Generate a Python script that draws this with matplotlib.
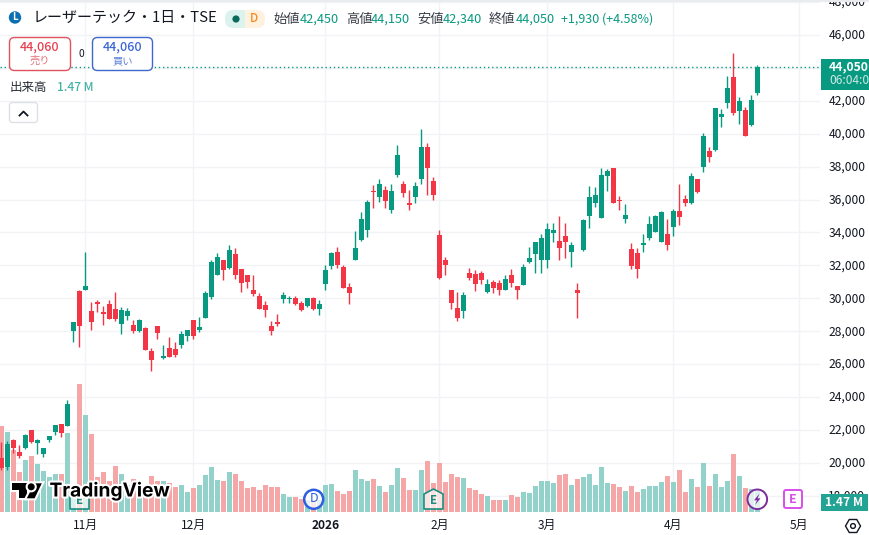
#!/usr/bin/env python3
"""Daily candlestick chart with volume, drawn in a TradingView-like layout."""
import numpy as np
import matplotlib
matplotlib.use('Agg')
import matplotlib.pyplot as plt
import matplotlib.patheffects as pe
from matplotlib.patches import Circle, FancyBboxPatch, Polygon, Rectangle
from matplotlib.transforms import ScaledTranslation

plt.rcParams['font.family'] = ['Noto Sans CJK JP', 'DejaVu Sans']

# ---- prices (yen per bar) ----
opens = [
    20300, 19760, 21390, 20670, 20910, 22000, 21210, 20550, 21390, 21880, 22360, 22240,
    28000, 30420, 30540, 29210, 29760, 29150, 29640, 29330, 28420, 28910, 28360, 28000,
    28180, 26790, 28300, 26390, 26970, 26910, 27150, 27700, 28670, 28060, 28790, 30060,
    31390, 32360, 31820, 32670, 31760, 31390, 30480, 30120, 29570, 28300, 28540, 29940,
    29940, 30000, 29700, 29510, 30000, 29330, 30850, 31940, 32790, 31880, 30670, 32360,
    33570, 34180, 36540, 36180, 36600, 35390, 37510, 36970, 35760, 36180, 37270, 39210,
    37150, 33820, 32300, 30540, 29390, 29210, 31570, 31510, 31570, 30360, 30970, 30910,
    30480, 31450, 30730, 30790, 32180, 32670, 32300, 32300, 33940, 33510, 33760, 32790,
    30480, 32910, 35030, 35760, 34850, 37450, 37940, 36000, 34790, 32970, 32730, 33210,
    33640, 34000, 33450, 33880, 34360, 35330, 36060, 35760, 37270, 38000, 38970, 39030,
    41030, 41880, 43450, 41390, 41450, 40540, 42450,
]
highs = [
    21270, 21330, 21450, 21090, 21760, 22000, 21450, 20910, 21640, 22300, 22360, 23820,
    28540, 30480, 32790, 29760, 29880, 29510, 29880, 30360, 29450, 29390, 28670, 28730,
    28240, 26970, 28300, 27150, 27640, 27330, 28000, 28060, 28670, 28850, 30420, 32360,
    32730, 32360, 33270, 33030, 31760, 31390, 31390, 30300, 29820, 28610, 29030, 30360,
    30120, 30120, 29820, 30000, 30060, 29880, 32000, 32790, 33090, 32000, 30910, 34060,
    35270, 36000, 36910, 37270, 36850, 36970, 39330, 37150, 36600, 37090, 40300, 39450,
    37390, 34180, 32540, 30540, 30360, 30360, 31820, 31700, 31640, 31150, 31090, 31090,
    31390, 31760, 30730, 32060, 33090, 33450, 33880, 34600, 34600, 35030, 34600, 33450,
    30910, 34790, 36850, 36790, 37940, 37880, 37940, 36240, 35700, 33390, 33030, 33880,
    35030, 35090, 35330, 34790, 35450, 36970, 36300, 37630, 37270, 40060, 39210, 41570,
    41510, 43510, 44910, 42240, 41630, 42360, 44150,
]
lows = [
    19580, 19580, 20610, 20300, 20850, 21210, 20550, 20360, 21270, 21700, 21580, 22240,
    27330, 27030, 30540, 28060, 29150, 28360, 28730, 28610, 27820, 28670, 27880, 27940,
    26850, 25580, 27510, 26300, 26420, 26420, 26970, 27390, 27510, 27940, 28790, 29940,
    31390, 31090, 31760, 31150, 30360, 30610, 30120, 29330, 28850, 27760, 28300, 29700,
    29700, 29570, 29210, 29450, 29270, 28970, 30480, 31760, 31820, 30610, 29640, 32300,
    33510, 33700, 35510, 35820, 35510, 35210, 37390, 36180, 35390, 35760, 36970, 36300,
    36000, 31150, 31390, 29330, 28610, 28790, 31090, 30420, 30850, 30300, 30300, 30180,
    30480, 30670, 29940, 30790, 32120, 31570, 31570, 31820, 33450, 32300, 32480, 31880,
    28790, 32850, 34300, 35570, 34850, 36540, 35760, 35390, 34600, 31760, 31210, 32790,
    33570, 34000, 33450, 32910, 33760, 34480, 35630, 35700, 36420, 37700, 38300, 38970,
    40420, 41570, 41150, 40600, 39880, 40480, 42340,
]
closes = [
    19700, 21150, 20910, 20420, 21700, 21270, 21390, 20910, 21640, 22300, 21820, 23580,
    28540, 28300, 30730, 28540, 29640, 29030, 28730, 28730, 29270, 29210, 28000, 28670,
    26850, 26240, 27880, 26480, 26420, 26540, 27820, 28060, 27700, 28240, 30300, 32180,
    32540, 31700, 32910, 31450, 30910, 30970, 30240, 29330, 29270, 28000, 28420, 30180,
    30020, 29640, 29270, 30000, 29330, 29640, 31700, 32730, 32000, 30610, 30300, 33030,
    34790, 35820, 36480, 36970, 35940, 36540, 38730, 36420, 35670, 36850, 39210, 37940,
    36300, 31210, 32000, 29700, 28790, 30180, 31210, 30850, 31090, 30850, 30610, 30540,
    31150, 30910, 30540, 31880, 32480, 33450, 33640, 34240, 34180, 33030, 33450, 33270,
    30300, 34730, 36180, 36300, 37510, 37760, 35760, 35940, 35090, 31940, 31760, 33390,
    34540, 34970, 35270, 33270, 35330, 34910, 35760, 37450, 36480, 39880, 38600, 41570,
    41210, 42790, 41270, 42000, 39880, 42060, 44050,
]
volumes = [  # millions of shares
    5.51, 5.13, 3.97, 2.56, 3.33, 3.59, 3.08, 2.63, 2.24, 2.44, 2.44, 5.06,
    1.41, 8.21, 6.22, 5.00, 2.24, 2.56, 1.99, 2.95, 2.44, 1.73, 2.12, 1.73,
    1.41, 2.31, 1.99, 1.99, 1.86, 1.60, 1.73, 1.28, 1.54, 1.73, 2.37, 2.88,
    2.05, 1.99, 2.56, 2.44, 1.99, 1.54, 1.60, 1.41, 1.73, 1.60, 1.60, 1.15,
    0.96, 0.96, 0.83, 0.77, 0.80, 0.77, 1.73, 1.79, 1.35, 1.15, 1.35, 2.69,
    2.12, 1.99, 2.12, 1.67, 1.28, 1.73, 2.82, 2.18, 1.41, 1.41, 2.69, 3.27,
    1.86, 3.14, 1.92, 2.44, 2.24, 2.18, 1.54, 1.41, 1.15, 1.03, 0.77, 0.77,
    0.77, 1.09, 0.96, 1.28, 1.22, 1.67, 1.99, 1.99, 1.86, 2.37, 2.44, 1.73,
    2.12, 2.24, 2.44, 1.73, 2.88, 1.86, 1.79, 1.60, 1.35, 1.67, 1.28, 1.47,
    1.67, 1.67, 1.92, 2.31, 1.92, 2.69, 1.28, 2.12, 1.60, 3.14, 1.67, 2.44,
    1.60, 1.99, 3.72, 2.31, 1.54, 1.47, 1.47,
]

# ---- axis labels ----
month_pos = [14, 32, 54, 73, 91, 112, 133]
month_labels = ['11月', '12月', '2026', '2月', '3月', '4月', '5月']
price_ticks = list(range(18000, 50000, 2000))

quote = [
    ('始値', 273, '42,450', 300), ('高値', 346, '44,150', 371),
    ('安値', 417, '42,340', 443), ('終値', 489, '44,050', 516),
]

UP, DOWN = '#089981', '#F23645'
UP_VOL, DOWN_VOL = '#92D2CA', '#F5A7A7'
GRID = '#F1F3F7'
INK = '#131722'
W, H = 869, 535
PANE_W, PANE_H = 820, 513

opens = np.array(opens); highs = np.array(highs); lows = np.array(lows); closes = np.array(closes)
xs = np.arange(len(closes))
rising = closes >= opens

fig = plt.figure(figsize=(W/100, H/100), dpi=100, facecolor='white')
rect = [0, (H-PANE_H)/H, PANE_W/W, PANE_H/H]
xlim = (-1.3/6, (PANE_W-1.3)/6)
ylim = (16978, 48107)

# ---- back layer: grid and price axis ----
ax_bg = fig.add_axes(rect, zorder=1)
ax_bg.set_xlim(xlim); ax_bg.set_ylim(ylim)
ax_bg.set_yticks(price_ticks)
ax_bg.set_yticklabels([f'{p:,}' for p in price_ticks], fontsize=8.7, color=INK)
ax_bg.yaxis.tick_right()
ax_bg.tick_params(axis='y', length=0, pad=6)
# price labels sit a pixel above their grid lines
lift = ScaledTranslation(0, 1.2/100, fig.dpi_scale_trans)
for t in ax_bg.get_yticklabels():
    t.set_transform(t.get_transform() + lift)
ax_bg.set_xticks(month_pos)
ax_bg.set_xticklabels(month_labels, fontsize=8.6, color=INK)
ax_bg.tick_params(axis='x', length=0, pad=4.2)
ax_bg.get_xticklabels()[2].set_fontweight('bold')
ax_bg.grid(True, color=GRID, lw=1)
ax_bg.set_axisbelow(True)
for s in ax_bg.spines.values():
    s.set_visible(False)

# ---- volume bars ----
ax_vol = fig.add_axes(rect, zorder=2, sharex=ax_bg)
ax_vol.patch.set_alpha(0)
ax_vol.axis('off')
ax_vol.bar(xs, volumes, width=5/6, color=np.where(rising, UP_VOL, DOWN_VOL))
ax_vol.set_ylim(-1/15.6, 512/15.6)
ax_vol.set_xlim(xlim)

# ---- candles ----
ax = fig.add_axes(rect, zorder=3, sharex=ax_bg)
ax.patch.set_alpha(0)
ax.axis('off')
colors = np.where(rising, UP, DOWN)
ax.vlines(xs, lows, highs, colors=colors, lw=1)
ax.bar(xs, np.abs(closes-opens), bottom=np.minimum(opens, closes), width=5/6, color=colors)
ax.axhline(closes[-1], color=UP, lw=1, ls=(0, (1, 2)))
ax.set_ylim(ylim)
ax.set_xlim(xlim)

# ---- overlay in pixel coordinates: header, badges, tags ----
ui = fig.add_axes([0, 0, 1, 1], zorder=5)
ui.patch.set_alpha(0)
ui.axis('off')
ui.set_xlim(0, W); ui.set_ylim(H, 0)
ui.add_patch(Rectangle((0, 0), W, 1.5, color='#E9EBEF', lw=0))


def label(x, y, s, size=9, color=INK, ha='left', weight='normal', **kw):
    return ui.text(x, y, s, fontsize=size, color=color, ha=ha, va='center', fontweight=weight, **kw)


def round_box(x0, y0, x1, y1, edge, r=4, lw=1.0, face='white'):
    ui.add_patch(FancyBboxPatch((x0+r, y0+r), x1-x0-2*r, y1-y0-2*r, boxstyle=f'round,pad={r},rounding_size={r}',
                                ec=edge, fc=face, lw=lw))


# symbol line
ui.add_patch(Circle((15, 17.5), 6.2, color='#0B6FB3', lw=0))
label(15, 17.3, 'L', 7, 'white', 'center', 'bold')
label(33, 18, 'レーザーテック・1日・TSE', 10.8)
round_box(225, 10, 246, 28, '#DCF2EF', r=8, lw=0, face='#DCF2EF')
round_box(245, 10, 265, 28, '#FFF1E0', r=8, lw=0, face='#FFF1E0')
ui.add_patch(Rectangle((236, 10), 9, 18, color='#DCF2EF', lw=0))
ui.add_patch(Rectangle((245, 10), 9, 18, color='#FFF1E0', lw=0))
ui.add_patch(Circle((236, 19), 3.6, color='#0A6B5C', lw=0))
label(254, 19, 'D', 8.4, '#F58A1F', 'center', 'medium')
for name, nx, val, vx in quote:
    label(nx, 19, name, 9.5, '#3A3E48')
    label(vx, 19, val, 9.2, UP)
label(561, 19, '+1,930 (+4.58%)', 9, UP)

# order buttons
round_box(9.5, 37.5, 70.5, 70.5, '#E0525F', r=5)
label(40, 47, '44,060', 9, '#E5404F', 'center', 'medium')
label(40, 61, '売り', 7.4, '#E5707C', 'center')
label(81, 54, '0', 7.4, INK, 'center')
round_box(92.5, 37.5, 152.5, 70.5, '#3F67CC', r=5)
label(122.5, 47, '44,060', 9, '#3B66D6', 'center', 'medium')
label(122.5, 61, '買い', 7.4, '#5F82DC', 'center')

# volume legend and collapse control
label(10, 87.5, '出来高', 9, '#2A2E39')
label(57, 87.5, '1.47 M', 8.6, '#43B3A5', weight='medium')
round_box(9.5, 102.5, 37.5, 122.5, '#DDE0E6', r=3)
ui.plot([19.5, 23.5, 27.5], [115.5, 111.5, 115.5], color=INK, lw=1.3)

# last price and volume tags on the scale
ui.add_patch(Rectangle((821, 59), 48, 31, color=UP, lw=0))
label(829, 66.5, '44,050', 8.8, 'white', weight='bold')
label(829, 81, '06:04:05', 8.6, '#CDE9E4')
ui.add_patch(Rectangle((821, 494), 47, 17, color='#22A394', lw=0))
label(844.5, 502.5, '1.47 M', 8.6, 'white', 'center', 'bold')

# settings hexagon in the corner
hx = 853 + 7.5*np.cos(np.radians(np.arange(0, 360, 60)))
hy = 526 + 7.5*np.sin(np.radians(np.arange(0, 360, 60)))
ui.add_patch(Polygon(np.c_[hx, hy], closed=True, fc='none', ec=INK, lw=1))
ui.add_patch(Circle((853, 526), 2.4, fc='none', ec=INK, lw=1))


def earnings_badge(cx, top, bottom, color, text_color):
    half = 9.5
    shoulder = top + 5
    ui.add_patch(Polygon([(cx-half, shoulder), (cx, top), (cx+half, shoulder), (cx+half, bottom), (cx-half, bottom)],
                         closed=True, fc='#FFFFFFB0', ec=color, lw=1.2, joinstyle='round'))
    label(cx, (top+bottom)/2 + 1.5, 'E', 8.4, text_color, 'center', 'bold')


# event badges along the bottom of the pane
earnings_badge(79.5, 489, 509, '#1A8F80', '#1A8F80')
earnings_badge(433.5, 489, 509, '#1A8F80', '#1A8F80')
ui.add_patch(Circle((313.7, 499.3), 9.5, fc='#FFFFFFC0', ec='#2F5FE0', lw=1.8))
label(313.7, 499, 'D', 9, '#2F5FE0', 'center')
ui.add_patch(Circle((757.3, 499.3), 9.8, fc='#FFFFFFB0', ec='#7B2C9E', lw=1.4))
ui.add_patch(Polygon([(759.5, 493.5), (754, 500.3), (757, 500.3), (755, 505), (760.5, 498.3), (757.6, 498.3)],
                     closed=True, color='#7B2C9E', lw=0))
round_box(784, 490, 802, 508, '#D84EEA', r=2, lw=1.4)
label(793, 499.5, 'E', 9, '#D84EEA', 'center', 'bold')

# logotype with a white halo
halo = [pe.withStroke(linewidth=3, foreground='white')]
mark = [
    Polygon([(11.7, 483.3), (26.8, 483.3), (26.8, 498.3), (19.2, 498.3), (19.2, 490.2), (11.7, 490.2)], closed=True),
    Polygon([(34.5, 483.3), (41.8, 483.3), (34.6, 498.3), (26.8, 498.3)], closed=True),
    Circle((31.2, 486.8), 3.5),
]
for shape in mark:
    shape.set(color='black', lw=0, path_effects=halo, zorder=6)
    ui.add_patch(shape)
label(49.5, 491, 'TradingView', 13.8, 'black', weight='bold', family=['Inter', 'DejaVu Sans'],
      path_effects=halo, zorder=6)

fig.savefig('out.png', dpi=100)
